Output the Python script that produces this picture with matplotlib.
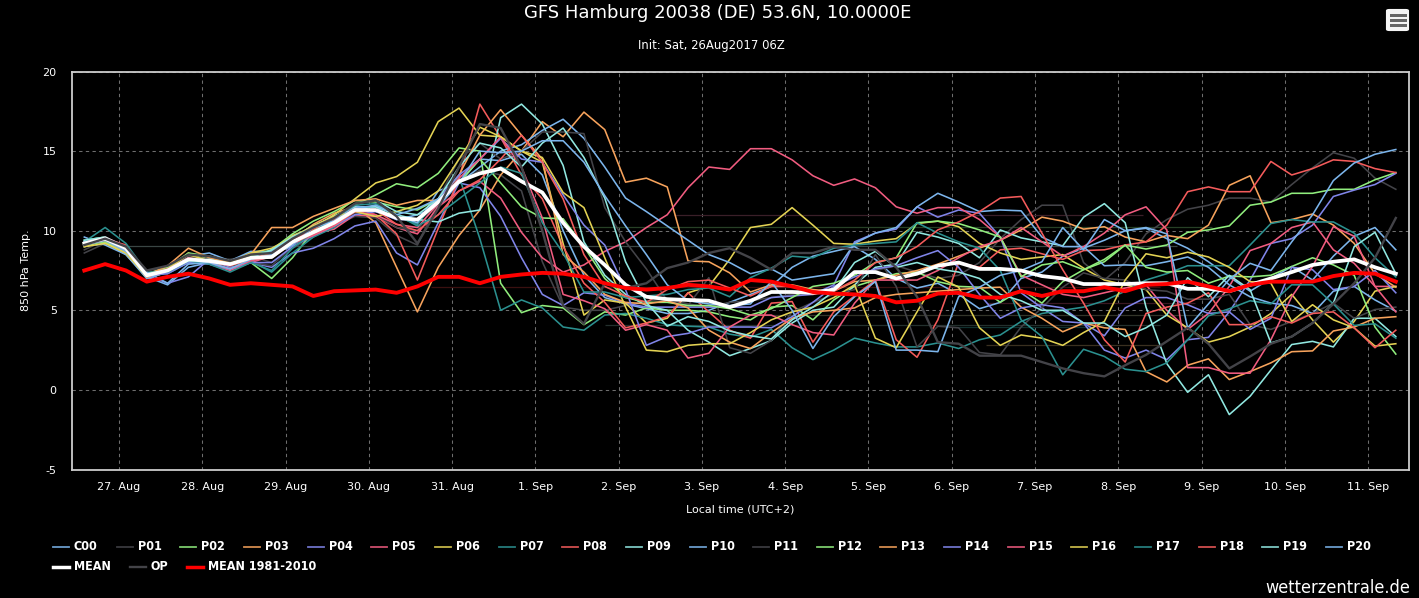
import numpy as np
import matplotlib
matplotlib.use("Agg")
import matplotlib.pyplot as plt
from matplotlib.lines import Line2D
from matplotlib.patches import FancyBboxPatch, Rectangle

plt.rcParams["axes.unicode_minus"] = False

# hours after 27 Aug 00:00 local, 6-hourly run
hours = np.arange(64) * 6 - 10

c00 = [9.0, 9.2, 8.8, 7.1, 6.6, 7.7, 8.0, 8.0, 8.5, 8.6, 9.0, 10.0, 10.4, 11.4, 11.5, 10.7, 11.0,
       11.5, 13.0, 14.5, 14.4, 14.8, 13.5, 10.0, 7.2, 5.8, 5.4, 5.1, 4.8, 4.8, 5.0, 5.5, 6.0, 6.5, 7.7, 8.4, 8.7, 9.0,
       8.2, 7.0, 6.4, 6.7, 6.0, 5.1, 5.5, 7.0, 7.4, 8.4, 8.9, 9.4, 10.0, 10.15, 9.5, 8.9, 8.05, 7.1, 6.2, 7.0, 7.75,
       6.9, 8.4, 9.65, 10.2, 8.8]
p01 = [8.6, 9.2, 8.7, 7.3, 7.7, 8.3, 8.3, 8.2, 8.4, 8.0, 8.9, 9.6, 10.3, 10.9, 10.8, 9.7, 9.1,
       11.8, 13.0, 13.8, 13.5, 12.5, 8.05, 5.2, 5.0, 5.0, 5.3, 5.6, 5.7, 5.4, 5.2, 5.5, 5.6, 5.8, 6.0, 6.1, 6.3, 7.3,
       7.5, 7.8, 7.4, 7.0, 7.2, 8.0, 9.5, 10.7, 11.6, 11.6, 8.0, 6.9, 8.0, 9.8, 10.7, 11.35, 11.6, 12.05, 12.05, 11.8,
       12.9, 13.95, 14.9, 14.55, 13.3, 12.6]
p02 = [9.4, 9.6, 8.9, 7.3, 7.6, 8.5, 8.2, 7.8, 8.0, 7.0, 8.3, 10.0, 10.9, 11.6, 12.25, 12.95, 12.7,
       13.6, 15.2, 15.0, 6.7, 4.85, 5.3, 5.15, 4.1, 4.9, 4.7, 5.15, 5.0, 5.0, 4.9, 4.6, 4.4, 5.2, 5.3, 4.4, 5.65, 6.5,
       6.9, 7.3, 7.4, 6.8, 6.5, 6.45, 5.5, 6.3, 5.45, 6.8, 7.55, 8.05, 9.1, 8.85, 9.1, 9.9, 10.05, 10.3, 11.6, 11.8,
       12.35, 12.35, 12.6, 12.6, 13.2, 13.65]
p03 = [9.1, 9.3, 8.6, 7.0, 7.4, 8.6, 8.0, 7.8, 8.2, 8.6, 9.4, 10.4, 11.1, 11.5, 10.5, 7.7, 4.9,
       7.7, 9.7, 11.3, 13.5, 15.0, 16.85, 15.9, 17.45, 16.35, 13.05, 13.3, 12.75, 8.1, 8.05, 7.35, 6.15, 6.6, 6.6, 6.3,
       6.2, 6.8, 6.9, 7.2, 7.5, 7.9, 8.4, 8.9, 9.4, 10.05, 10.85, 10.6, 10.1, 10.25, 9.6, 9.3, 9.7, 9.5, 10.35, 12.85,
       13.45, 10.5, 10.7, 11.05, 10.35, 9.2, 7.3, 6.45]
p04 = [9.3, 9.4, 8.8, 7.2, 6.7, 7.1, 8.2, 7.7, 8.0, 7.7, 8.6, 8.9, 9.5, 10.3, 10.6, 8.6, 7.85,
       10.5, 13.0, 12.7, 10.9, 8.3, 6.0, 5.3, 6.1, 5.95, 5.45, 5.2, 5.2, 5.2, 5.2, 5.2, 5.2, 5.8, 5.9, 6.0, 6.6, 9.3,
       9.85, 10.1, 11.5, 10.85, 11.3, 11.1, 9.6, 6.1, 5.15, 4.3, 4.2, 2.5, 2.0, 2.5, 1.9, 3.15, 3.3, 4.9, 6.9, 9.2,
       9.5, 10.35, 12.15, 12.55, 12.9, 13.6]
p05 = [9.2, 9.5, 9.0, 7.1, 7.6, 8.3, 7.9, 7.5, 8.0, 8.4, 9.3, 9.8, 10.1, 11.0, 10.9, 10.2, 9.8,
       11.5, 12.5, 13.1, 12.05, 9.9, 8.3, 7.4, 7.85, 8.7, 9.3, 10.2, 11.0, 12.7, 14.0, 13.85, 15.15, 15.15, 14.45, 13.45,
       12.85, 13.25, 12.7, 11.5, 11.1, 11.45, 11.45, 10.7, 9.6, 7.2, 6.6, 6.0, 5.8, 6.1, 6.4, 6.6, 5.0, 3.8, 4.8, 6.5,
       8.75, 9.2, 10.2, 10.55, 8.8, 7.95, 6.5, 6.5]
p06 = [9.0, 9.3, 8.5, 7.1, 7.5, 8.4, 8.2, 8.0, 8.6, 8.7, 9.7, 10.2, 11.0, 12.0, 13.0, 13.4, 14.3,
       16.85, 17.7, 16.0, 15.9, 15.0, 14.3, 9.2, 4.7, 5.65, 5.45, 4.2, 4.5, 6.1, 6.5, 8.2, 10.2, 10.4, 11.45, 10.35,
       9.2, 9.15, 9.35, 9.5, 10.45, 10.6, 10.25, 9.2, 8.6, 8.2, 8.35, 8.5, 7.65, 6.9, 6.6, 6.3, 4.7, 3.9, 3.0, 3.35,
       3.95, 4.8, 6.0, 4.4, 3.0, 4.3, 6.2, 6.5]
p07 = [9.4, 9.6, 9.0, 7.3, 7.3, 8.0, 8.0, 7.6, 8.1, 7.4, 8.6, 9.6, 10.2, 11.2, 11.6, 10.9, 10.4,
       12.0, 13.4, 9.5, 5.0, 5.65, 5.15, 3.95, 3.75, 4.7, 4.8, 4.5, 4.1, 4.0, 3.95, 3.5, 3.3, 3.8, 2.65, 1.9, 2.5, 3.25,
       2.95, 2.7, 2.7, 2.95, 2.6, 3.15, 3.45, 4.3, 4.8, 5.0, 5.2, 5.6, 6.2, 6.9, 7.3, 7.8, 7.8, 7.8, 9.1, 10.45, 10.7,
       10.55, 10.55, 9.85, 8.3, 7.1]
p08 = [9.3, 9.5, 9.1, 7.0, 7.5, 8.3, 8.1, 7.9, 8.3, 8.5, 9.4, 10.1, 10.7, 11.5, 11.0, 9.8, 6.9,
       10.15, 13.3, 17.95, 15.85, 13.5, 12.0, 9.0, 6.7, 5.5, 3.9, 4.2, 4.6, 6.1, 4.9, 3.75, 3.25, 5.45, 5.55, 3.0, 4.9,
       5.9, 6.9, 3.15, 2.05, 4.4, 8.0, 7.7, 8.8, 8.9, 8.55, 8.2, 8.75, 8.8, 9.1, 9.3, 10.35, 12.45, 12.75, 12.45, 12.45,
       14.35, 13.5, 13.9, 14.45, 14.35, 13.9, 13.65]
p09 = [9.3, 9.5, 8.9, 7.3, 7.4, 8.0, 8.1, 8.0, 8.4, 8.7, 9.6, 10.3, 10.9, 11.5, 11.5, 11.0, 10.7,
       10.55, 11.1, 11.3, 17.1, 17.95, 16.7, 14.1, 9.3, 7.2, 6.0, 5.3, 5.0, 3.75, 3.0, 2.15, 2.6, 3.1, 4.2, 5.0, 5.2,
       6.6, 7.7, 7.9, 9.9, 9.6, 9.2, 8.3, 10.05, 9.55, 9.3, 9.05, 10.85, 11.7, 10.5, 5.2, 1.65, -0.15, 0.95, -1.55, -0.4,
       1.25, 2.85, 3.05, 2.7, 4.5, 4.5, 3.35]
p10 = [9.6, 9.1, 8.5, 7.0, 7.4, 8.4, 8.6, 8.1, 8.7, 8.7, 9.6, 10.2, 10.6, 11.6, 11.2, 10.9, 10.5,
       12.5, 13.0, 14.0, 15.0, 15.4, 16.3, 17.0, 15.8, 14.0, 12.05, 11.2, 10.3, 9.4, 8.5, 8.0, 7.3, 7.6, 6.9, 7.1, 7.3,
       9.2, 9.85, 10.2, 11.5, 12.35, 11.8, 11.2, 11.3, 11.25, 9.6, 9.0, 9.0, 7.8, 7.85, 7.8, 8.05, 8.35, 7.7, 6.6, 5.85,
       5.45, 5.3, 4.8, 6.2, 6.5, 5.65, 4.95]
p11 = [8.8, 9.4, 8.9, 7.5, 7.7, 8.4, 8.2, 7.8, 8.0, 7.8, 9.0, 9.8, 10.4, 11.1, 11.0, 10.2, 10.0,
       12.0, 14.5, 15.5, 14.5, 15.0, 16.2, 16.2, 16.1, 11.45, 9.3, 7.6, 5.6, 5.3, 7.05, 2.65, 2.3, 3.1, 4.9, 5.5, 6.0,
       6.3, 8.5, 6.5, 2.7, 4.0, 3.9, 2.35, 2.2, 3.95, 5.15, 6.45, 7.35, 7.0, 6.9, 6.3, 6.2, 5.7, 5.7, 6.0, 4.1, 3.8, 4.3,
       4.8, 5.45, 4.5, 5.05, 5.2]
p12 = [9.1, 9.3, 8.7, 7.3, 7.7, 8.6, 8.4, 8.1, 8.4, 8.8, 9.8, 10.6, 11.2, 11.9, 11.8, 11.5, 11.3,
       12.0, 13.0, 14.5, 13.0, 11.5, 10.8, 10.75, 9.0, 7.0, 5.8, 5.5, 5.5, 5.3, 5.3, 5.1, 4.7, 5.1, 5.8, 6.5, 6.7, 7.2,
       8.0, 8.3, 10.5, 10.6, 10.45, 10.05, 9.6, 7.1, 7.85, 8.05, 7.55, 8.2, 9.1, 7.7, 7.4, 7.5, 6.7, 7.15, 7.1, 7.2,
       7.75, 8.3, 7.85, 7.2, 3.95, 2.25]
p13 = [9.2, 9.4, 8.7, 7.2, 7.8, 8.9, 8.3, 8.0, 8.5, 10.2, 10.2, 10.9, 11.4, 11.9, 12.0, 11.6, 11.9,
       11.9, 13.5, 16.0, 17.6, 16.0, 14.5, 8.5, 7.4, 6.0, 5.5, 5.4, 5.6, 5.15, 3.75, 3.0, 2.6, 3.6, 4.5, 4.9, 5.0, 5.15,
       5.8, 6.0, 6.1, 6.2, 6.3, 6.4, 6.45, 5.2, 4.5, 3.65, 4.2, 3.9, 3.8, 1.15, 0.5, 1.55, 1.95, 0.65, 1.15, 1.7, 2.4,
       2.45, 3.7, 3.95, 4.5, 4.6]
p14 = [9.1, 9.4, 8.9, 7.2, 7.3, 8.0, 7.9, 7.6, 8.0, 8.0, 9.0, 9.7, 10.3, 11.0, 11.2, 10.7, 10.7,
       12.0, 13.5, 14.5, 15.8, 14.5, 14.3, 12.25, 10.35, 9.1, 6.3, 2.8, 3.35, 3.55, 3.95, 3.95, 3.95, 3.9, 4.6, 5.5, 6.5,
       7.1, 7.6, 7.8, 8.3, 8.75, 7.7, 6.0, 4.5, 5.15, 5.35, 5.15, 4.2, 3.4, 5.15, 5.8, 5.8, 5.35, 4.8, 4.9, 3.8, 4.5,
       7.7, 7.55, 6.3, 6.5, 7.5, 6.1]
p15 = [9.3, 9.6, 9.0, 7.1, 7.5, 8.3, 8.0, 7.6, 8.1, 8.4, 9.2, 9.7, 10.3, 11.2, 11.0, 10.4, 10.2,
       11.7, 13.3, 14.5, 15.9, 14.0, 10.8, 6.0, 5.6, 5.1, 3.75, 4.1, 3.75, 2.0, 2.3, 3.95, 4.7, 4.7, 4.1, 3.6, 3.45, 5.45,
       6.9, 6.9, 6.9, 7.5, 8.3, 9.0, 9.4, 10.2, 9.3, 8.4, 9.0, 9.85, 11.0, 11.5, 10.05, 1.4, 1.4, 1.05, 1.05, 3.15, 5.85,
       7.75, 10.25, 9.65, 6.5, 4.9]
p16 = [9.0, 9.2, 8.6, 7.1, 7.6, 8.5, 8.1, 8.0, 8.6, 8.9, 9.6, 10.3, 10.9, 11.2, 10.9, 11.2, 11.6,
       12.5, 14.5, 16.5, 15.9, 15.0, 14.6, 12.4, 11.45, 8.3, 5.2, 2.5, 2.4, 2.8, 2.9, 2.9, 3.6, 4.4, 4.9, 5.2, 5.8, 6.6,
       3.25, 2.65, 4.9, 7.1, 6.45, 3.9, 2.8, 3.45, 3.25, 2.8, 3.6, 4.3, 6.9, 8.55, 8.3, 8.65, 8.35, 7.7, 6.8, 6.7, 4.3,
       5.35, 4.4, 3.9, 2.75, 2.9]
p17 = [9.3, 10.2, 9.2, 7.4, 7.4, 8.1, 7.9, 7.4, 8.0, 7.5, 8.9, 9.9, 10.8, 11.6, 11.7, 11.0, 10.3,
       11.0, 12.0, 13.0, 14.0, 13.6, 10.5, 8.6, 6.15, 6.15, 5.8, 5.9, 6.0, 6.3, 6.4, 5.85, 7.05, 7.65, 8.4, 8.3, 8.9, 9.1,
       9.2, 9.3, 10.5, 9.85, 9.3, 8.9, 7.5, 4.4, 3.35, 0.95, 2.55, 2.1, 1.3, 1.15, 1.7, 3.15, 4.65, 5.1, 5.6, 5.4, 6.6,
       6.6, 5.4, 4.05, 4.15, 3.25]
p18 = [9.2, 9.5, 8.9, 7.2, 7.6, 8.2, 8.1, 7.8, 8.2, 8.3, 9.2, 9.8, 10.4, 11.2, 11.3, 10.4, 10.0,
       11.0, 12.5, 13.2, 14.5, 16.0, 14.3, 12.0, 8.5, 6.5, 5.9, 5.5, 6.3, 6.8, 6.9, 6.4, 5.9, 6.5, 6.5, 6.0, 6.2, 6.9,
       8.0, 8.3, 9.0, 10.05, 10.55, 11.2, 12.05, 12.15, 9.85, 7.55, 5.45, 3.15, 1.75, 4.8, 5.2, 5.45, 6.1, 4.1, 4.1, 4.6,
       4.2, 4.8, 4.9, 3.9, 2.65, 3.75]
p19 = [9.4, 9.6, 8.9, 7.3, 7.5, 8.1, 8.2, 7.9, 8.3, 8.8, 9.6, 10.2, 10.8, 11.7, 11.9, 11.2, 11.0,
       12.0, 14.0, 15.5, 15.2, 14.0, 15.5, 16.45, 14.6, 12.05, 8.05, 5.5, 4.0, 4.6, 4.3, 3.7, 3.4, 3.2, 4.4, 5.2, 6.2, 8.0,
       8.7, 7.7, 8.0, 7.6, 7.4, 7.0, 6.0, 5.6, 5.0, 5.0, 4.2, 4.2, 3.35, 3.9, 4.7, 7.05, 5.85, 7.2, 6.3, 2.95, 3.35, 4.2,
       5.45, 9.0, 9.9, 7.3]
p20 = [9.3, 9.4, 8.7, 7.4, 6.7, 7.9, 8.0, 7.6, 8.2, 8.5, 9.1, 10.2, 10.6, 11.4, 11.6, 11.0, 11.4,
       12.0, 13.0, 15.0, 14.9, 15.0, 15.65, 15.65, 14.3, 12.2, 10.3, 8.5, 6.6, 5.6, 5.4, 5.3, 5.4, 6.8, 5.0, 2.6, 4.6, 5.85,
       6.8, 2.5, 2.5, 2.4, 5.85, 6.45, 7.2, 7.5, 8.05, 10.2, 8.8, 10.7, 10.0, 10.2, 9.8, 3.9, 5.4, 6.95, 7.95, 7.5, 9.3,
       11.0, 13.15, 14.25, 14.8, 15.1]
mean = [9.2, 9.5, 8.9, 7.2, 7.5, 8.2, 8.1, 7.9, 8.3, 8.35, 9.3, 9.9, 10.5, 11.3, 11.3, 10.8, 10.7,
        11.8, 13.1, 13.6, 13.9, 13.1, 12.4, 10.5, 9.0, 7.85, 6.6, 5.85, 5.7, 5.65, 5.6, 5.2, 5.6, 6.15, 6.15, 6.1, 6.3, 7.4,
        7.4, 7.0, 7.3, 7.8, 8.0, 7.6, 7.6, 7.5, 7.15, 7.0, 6.65, 6.65, 6.65, 6.7, 6.7, 6.35, 6.35, 6.2, 6.6, 7.0, 7.4, 7.85,
        8.05, 8.2, 7.7, 7.3]
op = [9.1, 9.5, 9.0, 7.5, 7.8, 8.5, 8.4, 8.1, 8.5, 8.6, 9.5, 10.2, 10.8, 11.7, 11.9, 10.9, 9.2,
      11.4, 14.0, 16.7, 16.45, 14.0, 10.0, 5.3, 4.15, 6.7, 6.4, 6.7, 7.65, 8.0, 8.6, 8.9, 8.3, 7.55, 8.6, 8.6, 9.0, 8.8,
      8.8, 7.7, 5.85, 3.0, 2.9, 2.15, 2.15, 2.15, 1.75, 1.35, 1.05, 0.85, 1.55, 2.2, 3.05, 3.9, 2.9, 1.35, 2.1, 2.9, 3.35,
      4.2, 5.4, 6.7, 8.3, 10.8]
clim = [7.5, 7.9, 7.5, 6.8, 7.1, 7.3, 7.0, 6.6, 6.7, 6.6, 6.5, 5.9, 6.2, 6.25, 6.3, 6.1, 6.5,
        7.1, 7.1, 6.7, 7.1, 7.25, 7.35, 7.3, 7.1, 6.7, 6.4, 6.3, 6.4, 6.6, 6.5, 6.3, 6.9, 6.8, 6.5, 6.15, 6.05, 6.0, 5.9, 5.5,
        5.6, 6.05, 6.1, 5.8, 5.8, 6.2, 5.9, 6.2, 6.2, 6.45, 6.2, 6.6, 6.65, 6.8, 6.5, 6.2, 6.6, 6.8, 6.8, 6.8, 7.15, 7.35,
        7.3, 6.8]

members = [c00, p01, p02, p03, p04, p05, p06, p07, p08, p09, p10,
           p11, p12, p13, p14, p15, p16, p17, p18, p19, p20]
member_names = ["C00"] + [f"P{i:02d}" for i in range(1, 21)]
palette = ["#7cb5ec", "#434348", "#90ed7d", "#f7a35c", "#8085e9",
           "#f15c80", "#e4d354", "#2b908f", "#f45b5b", "#91e8e1"]
day_labels = ["27. Aug", "28. Aug", "29. Aug", "30. Aug", "31. Aug", "1. Sep", "2. Sep", "3. Sep",
              "4. Sep", "5. Sep", "6. Sep", "7. Sep", "8. Sep", "9. Sep", "10. Sep", "11. Sep"]
yticks = [-5, 0, 5, 10, 15, 20]

# faint horizontal lines behind the ensemble: value, start hour, end hour, colour
guide_values = [11.0, 10.25, 9.05, 6.45, 5.45, 4.7, 4.1, 3.95, 2.85]
guide_starts = [160, 80, 0, 90, 250, 180, 140, 240, 250]
guide_ends = [295, 315, 305, 300, 310, 320, 300, 280, 300]
guide_colors = ["#3a1f28", "#274026", "#3a4644", "#3a1010", "#3a1822", "#33352a", "#24302e", "#10302f", "#3a3020"]

W, H = 1419, 598


def px_x(x):
    return x / W


def px_y(y):
    return 1 - y / H


def main():
    fig = plt.figure(figsize=(W / 100, H / 100), dpi=100, facecolor="black")
    ax = fig.add_axes([px_x(72), px_y(469.5), (1409 - 72) / W, (469.5 - 71.5) / H], facecolor="black")

    ax.hlines(guide_values, guide_starts, guide_ends, colors=guide_colors, linewidth=0.9, zorder=1)

    for i, (name, values) in enumerate(zip(member_names, members)):
        ax.plot(hours, values, color=palette[i % 10], linewidth=1.15, zorder=3, label=name)
    ax.plot(hours, mean, color="white", linewidth=2.7, zorder=4)
    ax.plot(hours, op, color="#434348", linewidth=1.7, zorder=4)
    ax.plot(hours, clim, color="#ff0000", linewidth=2.8, zorder=5)

    ax.set_xlim(-13.55, 371.8)
    ax.set_ylim(-5, 20)
    ax.set_xticks(np.arange(len(day_labels)) * 24, day_labels)
    ax.set_yticks(yticks)
    ax.tick_params(length=0, colors="white", labelsize=8)
    ax.tick_params(axis="x", pad=9)
    ax.tick_params(axis="y", pad=11)
    ax.grid(True, color="#6e6e6e", linestyle=(0, (3.2, 3.2)), linewidth=0.75, zorder=2)
    ax.set_axisbelow(True)
    for spine in ax.spines.values():
        spine.set_color("#cccccc")
        spine.set_linewidth(1.3)

    fig.text(px_x(718), px_y(12.5), "GFS Hamburg 20038 (DE) 53.6N, 10.0000E", color="white",
             fontsize=13, ha="center", va="center")
    fig.text(px_x(711), px_y(45), "Init: Sat, 26Aug2017 06Z", color="white", fontsize=8.4, ha="center", va="center")
    fig.text(px_x(26), px_y(270), "850 hPa Temp.", color="white", fontsize=8, rotation=90, ha="center", va="center")
    fig.text(px_x(740), px_y(509), "Local time (UTC+2)", color="white", fontsize=8, ha="center", va="center")
    fig.text(px_x(1410), px_y(588), "wetterzentrale.de", color="white", fontsize=13, family="DejaVu Sans",
             stretch="condensed", ha="right", va="center")

    # legend flows like the web chart, so the entries are placed by hand
    legend_font = dict(color="white", fontsize=9, fontweight="bold", family="DejaVu Sans", stretch="condensed", va="center")
    for i, name in enumerate(member_names):
        x0 = 53 + 63.65 * i
        fig.add_artist(Line2D([px_x(x0), px_x(x0 + 16)], [px_y(547)] * 2, color=palette[i % 10], linewidth=1.3, alpha=0.85))
        fig.text(px_x(x0 + 21), px_y(547), name, **legend_font)
    row2 = [("MEAN", "white", 53, 2.5), ("OP", "#434348", 129.5, 1.7), ("MEAN 1981-2010", "#ff0000", 187, 2.5)]
    for name, color, x0, lw in row2:
        fig.add_artist(Line2D([px_x(x0), px_x(x0 + 16)], [px_y(567)] * 2, color=color, linewidth=lw))
        fig.text(px_x(x0 + 21), px_y(567), name, **legend_font)

    # export menu button
    fig.add_artist(FancyBboxPatch((px_x(1386.5), px_y(30.5)), 22 / W, 21 / H, boxstyle="round,pad=0,rounding_size=0.002",
                                  transform=fig.transFigure, facecolor="#f4f4f4", edgecolor="#f4f4f4", linewidth=0.8))
    for y in (15, 20, 25):
        fig.add_artist(Rectangle((px_x(1389.5), px_y(y + 1.5)), 17 / W, 3 / H, transform=fig.transFigure,
                                 facecolor="#666666", edgecolor="none", zorder=5))

    fig.savefig("out.png", dpi=100, facecolor="black")


if __name__ == "__main__":
    main()
